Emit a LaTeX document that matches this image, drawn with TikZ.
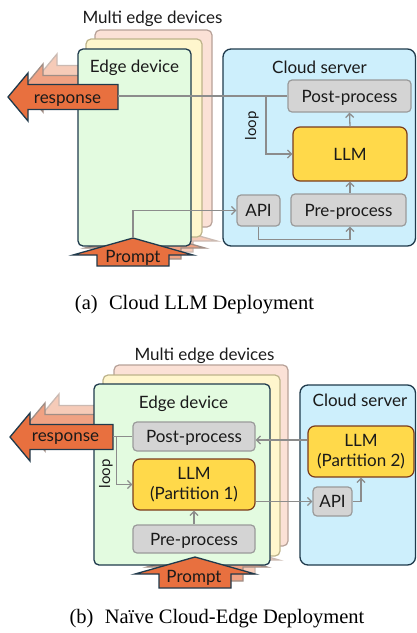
\documentclass[tikz,border=0pt]{standalone}
\usepackage{fontspec}
\setmainfont{Liberation Serif}
\newfontfamily\sfui{Lato}
\usetikzlibrary{arrows.meta}
\definecolor{orangeA}{HTML}{E8703F}
\definecolor{ghostA}{HTML}{F0A283}
\definecolor{ghostB}{HTML}{F6CBB8}
\definecolor{darkbd}{HTML}{1F3A4C}
\definecolor{ghostbdA}{HTML}{A08E86}
\definecolor{ghostbdB}{HTML}{CBBAB2}
\definecolor{greenfill}{HTML}{E3FBE0}
\definecolor{yellowfill}{HTML}{FFF6CD}
\definecolor{yellowbd}{HTML}{BDB38A}
\definecolor{salmonfill}{HTML}{FBE1D6}
\definecolor{salmonbd}{HTML}{B7A198}
\definecolor{cloudfill}{HTML}{CDEFFC}
\definecolor{grayfill}{HTML}{D4D4D4}
\definecolor{graybd}{HTML}{9A9A9A}
\definecolor{llmfill}{HTML}{FFD94A}
\definecolor{llmbd}{HTML}{7A3C1C}
\definecolor{connc}{HTML}{8C8C8C}
\definecolor{txt}{HTML}{1A1A1A}
% left-pointing response arrow: tip x, tip y, shaft end x, fill, border
\newcommand\respArrow[5]{%
  \filldraw[fill=#4, draw=#5, line width=1.3, line join=miter]
    (#1,#2) -- (#1+20,#2-24) -- (#1+20,#2-12.5) -- (#3,#2-12.5) -- (#3,#2+12.5)
    -- (#1+20,#2+12.5) -- (#1+20,#2+24) -- cycle;}
% up-pointing prompt arrow: tip x, tip y, length, fill, border
\newcommand\promptArrow[5]{%
  \filldraw[fill=#4, draw=#5, line width=1.3, line join=miter]
    (#1,#2) -- (#1+60,#2+17) -- (#1+36,#2+17) -- (#1+36,#2+#3) -- (#1-36,#2+#3)
    -- (#1-36,#2+17) -- (#1-60,#2+17) -- cycle;}
\tikzset{
  sf/.style={font=\sfui\fontsize{17}{20}\selectfont, text=txt, inner sep=0pt},
  sfloop/.style={font=\sfui\fontsize{15}{18}\selectfont, text=txt, inner sep=0pt},
  capfont/.style={font=\fontsize{20.5}{24}\selectfont, text=black, inner sep=0pt},
  salmoncard/.style={fill=salmonfill, draw=salmonbd, line width=1.2, rounded corners=5},
  yellowcard/.style={fill=yellowfill, draw=yellowbd, line width=1.2, rounded corners=5},
  greencard/.style={fill=greenfill, draw=darkbd, line width=1.3, rounded corners=5},
  cloudbox/.style={fill=cloudfill, draw=darkbd, line width=1.3, rounded corners=8},
  graybox/.style={sf, fill=grayfill, draw=graybd, line width=1.2, rounded corners=4,
    text height=12.2pt, text depth=0pt},
  llmbox/.style={sf, fill=llmfill, draw=llmbd, line width=1.2, rounded corners=7, align=center},
  conn/.style={draw=connc, line width=1.3, -{Straight Barb[length=4pt,width=8pt]}},
  connline/.style={draw=connc, line width=1.3},
}
\begin{document}
\begin{tikzpicture}[x=1pt,y=-1pt]
\useasboundingbox (0,0) rectangle (417,633);
% ================= panel (a) =================
\node[sf, anchor=base] (multiA) at (152.5,23) {Multi edge devices};
\draw[salmoncard] (95,30) rectangle (212,227);
\respArrow{37}{78}{147}{ghostB}{ghostbdB}
\promptArrow{157}{224}{28}{ghostB}{ghostbdB}
\draw[yellowcard] (86,39) rectangle (202,237);
\respArrow{23}{88}{133}{ghostA}{ghostbdA}
\promptArrow{145}{231}{28}{ghostA}{ghostbdA}
\draw[greencard] (78,49) rectangle (191,246);
\respArrow{8}{97}{118}{orangeA}{darkbd}
\promptArrow{133}{238}{28}{orangeA}{darkbd}
\node[sf, anchor=base] (edgeA) at (134.5,72) {Edge device};
\node[sf, anchor=base] (respAtxt) at (67.5,103.5) {response};
\node[sf, anchor=base] (promptAtxt) at (133,262) {Prompt};
\coordinate (respA) at (118,96);
\coordinate (promptA) at (133,238);
\draw[cloudbox] (223,49) rectangle (415.5,246);
\node[sf, anchor=base] (cloudA) at (319.5,73) {Cloud server};
\node[graybox, minimum width=123, minimum height=32] (postA) at (349.5,96) {Post-process};
\node[llmbox, text height=12.2pt, text depth=0pt, minimum width=114, minimum height=54] (llmA) at (350,154) {LLM};
\node[graybox, minimum width=43, minimum height=31] (apiA) at (258.5,210.5) {API};
\node[graybox, minimum width=115, minimum height=32] (preA) at (348.5,210) {Pre-process};
\draw[connline] (postA.west) -- (respA);
\coordinate (loopA) at (266,96);
\draw[conn] (loopA) |- (llmA.west);
\node[sfloop, rotate=90] (loopAtxt) at (252,126) {loop};
\draw[conn] (llmA.north) -- (postA.south);
\draw[conn] (llmA.south |- preA.north) -- (llmA.south);
\draw[conn] (apiA.south) -- ++(0,13) -| (llmA.south |- preA.south);
\draw[conn] (promptA) |- (apiA.west);
\node[capfont, anchor=base] (capA) at (194.5,309) {(a)\hspace{0.55em}Cloud LLM Deployment};
% ================= panel (b) =================
\node[sf, anchor=base] (multiB) at (204.5,360) {Multi edge devices};
\draw[salmoncard] (114,365) rectangle (288,546);
\respArrow{39}{418}{142}{ghostB}{ghostbdB}
\promptArrow{219}{543}{31}{ghostB}{ghostbdB}
\draw[yellowcard] (103,375) rectangle (280,556);
\respArrow{25}{427}{128}{ghostA}{ghostbdA}
\promptArrow{207}{550}{31}{ghostA}{ghostbdA}
\draw[greencard] (94,384) rectangle (270,565);
\respArrow{10}{437}{113}{orangeA}{darkbd}
\promptArrow{195}{557}{31}{orangeA}{darkbd}
\node[sf, anchor=base] (edgeB) at (183.5,408) {Edge device};
\node[sf, anchor=base] (respBtxt) at (65.5,441) {response};
\node[sf, anchor=base] (promptBtxt) at (194,582) {Prompt};
\coordinate (respB) at (113,436.5);
\node[graybox, minimum width=122, minimum height=29] (postB) at (194,436.5) {Post-process};
\node[llmbox, minimum width=122, minimum height=51] (llmB1) at (194,484.5) {LLM\\(Partition 1)};
\node[graybox, minimum width=122, minimum height=28] (preB) at (194,539) {Pre-process};
\draw[cloudbox] (300,385) rectangle (415.5,565);
\node[sf, anchor=base] (cloudB) at (360,406) {Cloud server};
\node[llmbox, minimum width=106, minimum height=51] (llmB2) at (361,451.5) {LLM\\(Partition 2)};
\node[graybox, minimum width=39, minimum height=29] (apiB) at (332.5,501.5) {API};
\draw[connline] (postB.west) -- (respB);
\coordinate (loopB) at (116.5,436.5);
\draw[conn] (loopB) |- (llmB1.west);
\node[sfloop, rotate=90] (loopBtxt) at (106,474) {loop};
\draw[conn] (preB.north) -- (llmB1.south);
\draw[conn] (llmB1.east |- apiB.west) -- (apiB.west);
\draw[conn] (apiB.east) -| (llmB2.south);
\coordinate (lvlB) at (0,440);
\draw[conn] (llmB2.west |- lvlB) -- (postB.east |- lvlB);
\node[capfont, anchor=base] (capB) at (217,623) {(b)\hspace{0.55em}Na\"ive Cloud-Edge Deployment};
\end{tikzpicture}
\end{document}
